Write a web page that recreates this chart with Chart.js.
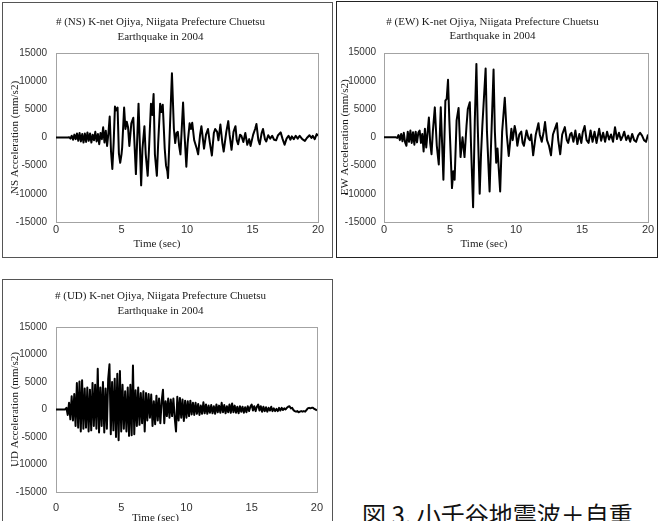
<!DOCTYPE html>
<html>
<head>
<meta charset="utf-8">
<script src="https://cdn.jsdelivr.net/npm/chart.js@4.4.1/dist/chart.umd.min.js"></script>
<style>
  html, body { margin: 0; padding: 0; background: #fff; overflow: hidden; }
  body { width: 659px; height: 521px; position: relative; }
  .box { position: absolute; border: 1px solid #555; box-sizing: border-box; }
  canvas { position: absolute; }
  #caption {
    position: absolute; left: 362px; top: 502px; white-space: nowrap;
    font-family: "Noto Sans CJK JP", sans-serif; font-size: 24px; line-height: 1; color: #111;
  }
</style>
</head>
<body>
<div class="box" style="left:2px;top:2px;width:331px;height:256px;"></div>
<div class="box" style="left:336px;top:1px;width:322px;height:257px;border-color:#222;"></div>
<div class="box" style="left:2px;top:279px;width:331px;height:260px;"></div>
<canvas id="ns" width="329" height="254" style="left:3px;top:3px;"></canvas>
<canvas id="ew" width="320" height="255" style="left:337px;top:2px;"></canvas>
<canvas id="ud" width="329" height="254" style="left:3px;top:280px;"></canvas>
<div id="caption">図 3. 小千谷地震波＋自重</div>
<script>
// tick labels
const xTicks = [0, 5, 10, 15, 20];
const yTicks = [-15000, -10000, -5000, 0, 5000, 10000, 15000];

// NS record, peaks (time in sec, acceleration in mm/s2)
const nsTime = [0, 0.9, 1.0, 1.1, 1.2, 1.3, 1.4, 1.5, 1.6, 1.7, 1.8, 1.9, 2.0, 2.1, 2.2, 2.3, 2.4, 2.5, 2.6, 2.7,
  2.8, 2.9, 3.0, 3.1, 3.2, 3.3, 3.4, 3.5, 3.6, 3.7, 3.8, 3.9, 4.0, 4.1, 4.2, 4.3, 4.4, 4.5, 4.6, 4.7,
  4.8, 4.9, 5.0, 5.05, 5.2, 5.3, 5.4, 5.5, 5.6, 5.75, 5.9, 6.1, 6.3, 6.5, 6.6, 6.75, 6.85, 7.0, 7.1, 7.25,
  7.35, 7.45, 7.55, 7.7, 7.8, 7.95, 8.05, 8.15, 8.3, 8.4, 8.5, 8.55, 8.7, 8.85, 9.0, 9.1, 9.2, 9.3, 9.4, 9.5,
  9.7, 9.8, 9.95, 10.05, 10.2, 10.3, 10.4, 10.55, 10.75, 10.85, 11.0, 11.1, 11.3, 11.45, 11.6, 11.75, 11.9, 12.05, 12.15, 12.3,
  12.4, 12.55, 12.7, 12.8, 13.0, 13.15, 13.25, 13.4, 13.55, 13.7, 13.8, 13.9, 14.05, 14.15, 14.3, 14.45, 14.6, 14.75, 14.85, 15.05,
  15.2, 15.3, 15.45, 15.55, 15.7, 15.8, 15.95, 16.05, 16.2, 16.35, 16.5, 16.65, 16.8, 16.95, 17.15, 17.3, 17.45, 17.6, 17.75, 17.9,
  18.0, 18.15, 18.3, 18.45, 18.6, 18.8, 19.0, 19.15, 19.35, 19.5, 19.6, 19.75, 19.9, 20.0];
const nsAccel = [0, 0, 50, -200, 300, -400, 500, -300, 700, -600, 800, -700, 600, -900, 700, -800, 900, -600, 700, -900,
  500, -500, 1000, -700, 600, -1200, 800, -300, 1800, -900, 1200, -1500, 700, 3700, -2500, -5600, -1000, 5500, 4800, 5300,
  -2800, -4500, -3000, -1800, 5300, 1500, 2800, 1800, -1500, 2500, 3500, -6500, 6000, -8500, -2000, 2000, -3000, -6800, -2000, 6000,
  4000, 7700, -3000, -6800, -1000, 6000, 4500, 5800, -2000, -5000, -6000, -7200, 2000, 11400, 1500, -1000, 800, 1000, -1500, -3000,
  6200, 1000, -5200, -1000, 2500, 1500, 2600, -500, -2000, -3000, 500, 2000, -2000, 500, 1500, -1000, -3200, 800, 1500, 1000,
  -500, 2300, -1000, -2500, 1000, 2900, 500, -2200, 1000, 2000, -500, -1200, 500, 300, -800, 800, -1300, -300, -1500, 500,
  1500, 2400, -500, -1200, 800, 1500, -300, -700, 400, -200, 300, -400, -500, 400, 900, -300, -1300, -200, 300, -400,
  200, -300, 300, -200, 300, -300, -600, -100, 400, -100, 300, -300, 600, 300];

// EW record
const ewTime = [0, 0.9, 1.0, 1.1, 1.2, 1.3, 1.4, 1.5, 1.6, 1.7, 1.8, 1.9, 2.0, 2.1, 2.2, 2.3, 2.4, 2.5, 2.6, 2.7,
  2.8, 2.9, 3.0, 3.1, 3.2, 3.3, 3.4, 3.5, 3.6, 3.7, 3.85, 4.0, 4.15, 4.3, 4.4, 4.5, 4.65, 4.75, 4.85, 4.95,
  5.15, 5.25, 5.35, 5.5, 5.65, 5.8, 5.95, 6.1, 6.25, 6.35, 6.5, 6.6, 6.75, 6.88, 7.0, 7.1, 7.25, 7.35, 7.45, 7.7,
  7.8, 8.0, 8.1, 8.3, 8.4, 8.5, 8.6, 8.8, 8.95, 9.15, 9.3, 9.45, 9.55, 9.65, 9.75, 9.9, 10.0, 10.1, 10.25, 10.4,
  10.5, 10.6, 10.8, 10.95, 11.05, 11.15, 11.3, 11.5, 11.7, 11.8, 11.95, 12.1, 12.2, 12.35, 12.5, 12.65, 12.8, 12.95, 13.1, 13.2,
  13.35, 13.5, 13.7, 13.85, 13.95, 14.1, 14.2, 14.35, 14.5, 14.65, 14.8, 14.95, 15.05, 15.2, 15.35, 15.5, 15.65, 15.8, 15.95, 16.1,
  16.3, 16.45, 16.6, 16.75, 16.9, 17.05, 17.2, 17.35, 17.5, 17.65, 17.8, 17.95, 18.1, 18.2, 18.35, 18.5, 18.65, 18.8, 18.95, 19.1,
  19.25, 19.4, 19.55, 19.7, 19.85, 20.0];
const ewAccel = [0, 0, -100, 400, -500, 600, -700, 800, -900, -1500, 1000, -800, 1200, -1000, 900, -1300, 1000, -900, 800, 1200,
  -1000, 600, -2500, 1500, -1800, 800, 3500, -1000, -3000, 1000, 5300, -1500, -4800, 5300, -1000, -7500, 6500, 6800, 10200, 3000,
  -9000, -6000, -7500, 3000, 5200, -3500, 0, -3500, 2000, 5000, 6200, -2000, -12400, 3000, 13000, 2000, -10000, -3000, 2000, 12200,
  1000, -9600, -2000, 12000, 1000, -4500, -2000, -9600, 1000, 7000, 500, -3300, -1000, 1500, -500, 2000, 800, -1500, 500, 1000,
  -1000, -1500, 1200, -200, -500, 500, -3200, 500, 2500, 500, -800, 1000, 2700, -500, -1500, -3200, 500, 1500, 2500, -500,
  -3000, 500, 1800, -500, -1000, 500, 800, -800, 1200, -1200, 600, -1000, 800, 2000, -500, -1000, 1200, -800, 1000, -1000,
  1500, -600, 800, -800, 1000, -400, 500, -800, 1800, -300, 800, -500, 300, 1000, -500, 300, -800, 600, -500, -800,
  300, 800, 300, -500, -800, 500];

// UD record, sampled every 0.1 sec from 0 to 20 sec
const udStep = 0.1;
const udAccel = [0, 0, 0, 0, 0, 0, 0, 0, 300, -1000,
  1200, -1800, 2400, -2000, 2800, -3000, 4800, -3300, 5100, -4000,
  5300, -3500, 3800, -3300, 4000, -4000, 3600, -3800, 4800, -3000,
  4500, -3500, 7400, -4200, 4000, -3000, 5000, -4200, 3800, -3500,
  5500, 8200, -4500, 5000, -3800, 5600, -5000, 6500, -5600, 7000,
  -4000, 4500, -3500, 3300, -4000, 4000, -4800, 4500, -4700, 8000,
  -4500, 3500, -3000, 4000, -2800, 3000, -2500, 3300, -4000, 3000,
  -2000, 2800, -1500, 2700, -3000, 1500, -2700, 2500, -2000, 2000,
  -2500, 1500, 3600, -2500, 1500, -1200, 2000, -1500, 1800, -1200,
  2000, -1500, -4000, 2300, -2000, 2100, -1500, 1800, -2100, 1600,
  -1500, 1500, -1200, 1600, -900, 1200, -1000, 1200, -800, 1000,
  -1000, 700, -800, 1300, -700, 900, -800, 700, -600, 800,
  -700, 600, -800, 900, -500, 700, -600, 1200, -500, 800,
  -700, 600, -500, 900, -600, 1100, -500, 700, -600, 500,
  -700, 600, -400, 500, -600, 400, -500, 600, -300, 500,
  900, -200, 600, -300, 500, 900, -200, 600, -400, 500,
  -300, 400, -400, 300, -200, 500, -300, 200, -300, 100,
  -300, 300, -200, 300, -100, 200, 0, 300, 500, 600,
  200, 300, -100, -300, -400, -300, -500, -400, -300, -400,
  -300, -400, -100, 200, 300, 200, 300, 300, 100, 0,
  -200];
const udTime = udAccel.map((v, i) => +(i * udStep).toFixed(1));

// plot frame + the time axis title, which sits left of centre in the original
const framePlugin = {
  id: 'frame',
  beforeDatasetsDraw(chart) {
    const { ctx, chartArea: a } = chart;
    ctx.save();
    ctx.strokeStyle = '#a3a3a3';
    ctx.lineWidth = 1;
    ctx.strokeRect(Math.round(a.left) + 0.5, Math.round(a.top) + 0.5, Math.round(a.width), Math.round(a.height));
    ctx.restore();
  },
  afterDraw(chart, args, opts) {
    const { ctx, chartArea: a } = chart;
    ctx.save();
    ctx.fillStyle = '#1a1a1a';
    ctx.font = '11px "Liberation Serif"';
    ctx.textAlign = 'center';
    ctx.textBaseline = 'middle';
    ctx.fillText('Time (sec)', (a.left + a.right) / 2 + opts.dx, a.bottom + opts.dy);
    ctx.restore();
  }
};

function makeChart(id, label, time, accel, lay) {
  const ctx = document.getElementById(id).getContext('2d');
  return new Chart(ctx, {
    type: 'line',
    data: {
      datasets: [{
        data: time.map((t, i) => ({ x: t, y: accel[i] })),
        borderColor: '#000',
        borderWidth: 2,
        borderJoinStyle: 'round',
        pointRadius: 0,
        tension: 0,
        fill: false
      }]
    },
    options: {
      responsive: false,
      animation: false,
      devicePixelRatio: 1,
      layout: { padding: { left: 0, right: lay.padRight, top: 0, bottom: 0 } },
      plugins: {
        legend: { display: false },
        tooltip: { enabled: false },
        title: {
          display: true,
          text: ['# (' + label + ') K-net Ojiya, Niigata Prefecture Chuetsu', 'Earthquake in 2004'],
          color: '#1a1a1a',
          font: { family: 'Liberation Serif', size: 11, weight: 'normal', lineHeight: lay.titleLine },
          padding: { top: lay.titleTop, bottom: lay.titleBottom }
        },
        frame: { dx: lay.xTitleDx, dy: lay.xTitleDy }
      },
      scales: {
        x: {
          type: 'linear',
          min: xTicks[0],
          max: xTicks[xTicks.length - 1],
          afterFit: s => { s.height = lay.xAxisH; },
          afterBuildTicks: s => { s.ticks = xTicks.map(v => ({ value: v })); },
          grid: { display: false, drawTicks: false },
          border: { display: false },
          ticks: { color: '#333', padding: lay.xTickPad, maxRotation: 0, font: { family: 'Liberation Sans', size: 11 } }
        },
        y: {
          min: yTicks[0],
          max: yTicks[yTicks.length - 1],
          afterFit: s => { s.width = lay.yAxisW; },
          afterBuildTicks: s => { s.ticks = yTicks.map(v => ({ value: v })); },
          grid: { display: false, drawTicks: false },
          border: { display: false },
          ticks: { color: '#333', padding: lay.yTickPad, font: { family: 'Liberation Sans', size: 10 }, callback: v => String(v) },
          title: {
            display: true,
            text: label + ' Acceleration (mm/s2)',
            color: '#1a1a1a',
            font: { family: 'Liberation Serif', size: 11 },
            padding: { top: lay.yTitlePad, bottom: 0 }
          }
        }
      }
    },
    plugins: [framePlugin]
  });
}

makeChart('ns', 'NS', nsTime, nsAccel, {
  padRight: 14, yAxisW: 53, xAxisH: 35, titleTop: 12, titleBottom: 8, titleLine: 1.36,
  xTickPad: 1, yTickPad: 9, yTitlePad: 6, xTitleDx: -30, xTitleDy: 22
});
makeChart('ew', 'EW', ewTime, ewAccel, {
  padRight: 9, yAxisW: 47, xAxisH: 35, titleTop: 13, titleBottom: 9, titleLine: 1.3,
  xTickPad: 1, yTickPad: 8, yTitlePad: 2, xTitleDx: -32, xTitleDy: 22
});
makeChart('ud', 'UD', udTime, udAccel, {
  padRight: 14, yAxisW: 53, xAxisH: 42, titleTop: 9, titleBottom: 8, titleLine: 1.36,
  xTickPad: 9, yTickPad: 9, yTitlePad: 6, xTitleDx: -31, xTitleDy: 26
});
</script>
</body>
</html>
